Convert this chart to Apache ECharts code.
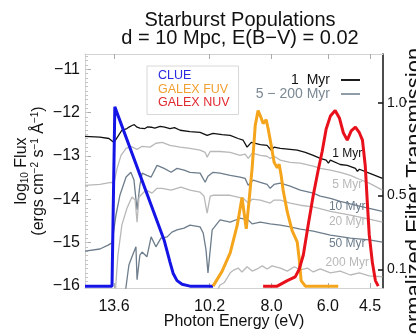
<!DOCTYPE html>
<html><head><meta charset="utf-8">
<script src="https://cdn.jsdelivr.net/npm/echarts@6/dist/echarts.min.js"></script>
<style>html,body{margin:0;padding:0;background:#fff}#c{width:416px;height:334px}</style>
</head><body><div id="c"></div>
<script>
// Tick values
const energyTicks = [13.6, 10.2, 8.0, 6.0, 4.5];
const fluxTicks = [-16, -15, -14, -13, -12, -11];
const transTicks = [0.1, 0.5, 1.0];

// Filter transmission curves [photon energy eV, normalized transmission]
const clue = [[14.63,0.01],[13.67,0.01],[13.62,0.01],[13.57,0.98],[11.82,0.26],[11.61,0.14],[11.50,0.08],[11.36,0.04],[11.18,0.02],[10.90,0.01],[10.08,0.01]];
const galexFUV = [[10.08,0.01],[9.76,0.09],[9.47,0.19],[9.22,0.34],[9.05,0.49],[8.90,0.32],[8.80,0.47],[8.69,0.65],[8.58,0.88],[8.48,0.96],[8.37,0.92],[8.30,0.89],[8.19,0.91],[8.12,0.86],[8.01,0.77],[7.91,0.68],[7.80,0.65],[7.73,0.67],[7.66,0.61],[7.59,0.53],[7.44,0.41],[7.27,0.31],[7.09,0.25],[7.02,0.16],[6.95,0.04],[6.80,0.01],[5.63,0.01]];
const galexNUV = [[8.30,0.01],[7.80,0.01],[7.44,0.04],[7.16,0.06],[7.02,0.10],[6.87,0.18],[6.70,0.34],[6.52,0.50],[6.34,0.64],[6.20,0.74],[6.06,0.86],[5.91,0.93],[5.74,0.96],[5.59,0.92],[5.45,0.84],[5.31,0.80],[5.17,0.85],[5.02,0.87],[4.88,0.84],[4.77,0.80],[4.67,0.66],[4.60,0.47],[4.53,0.29],[4.42,0.14],[4.31,0.04],[4.21,0.01]];

// Model spectra [photon energy eV, log10 flux]
const myr1 = [[14.63,-12.55],[14.10,-12.57],[13.78,-12.60],[13.60,-12.69],[13.46,-12.55],[13.32,-12.41],[13.14,-12.37],[13.05,-12.33],[12.96,-12.30],[12.88,-12.28],[12.78,-12.34],[12.68,-12.36],[12.50,-12.37],[12.40,-12.33],[12.28,-12.34],[12.15,-12.36],[11.96,-12.32],[11.80,-12.34],[11.61,-12.37],[11.45,-12.35],[11.25,-12.41],[10.90,-12.44],[10.54,-12.46],[10.29,-12.53],[10.08,-12.48],[9.76,-12.51],[9.47,-12.53],[9.19,-12.60],[9.01,-12.64],[8.87,-12.80],[8.72,-12.69],[8.40,-12.74],[8.16,-12.76],[8.01,-12.87],[7.91,-12.80],[7.69,-12.83],[7.34,-12.85],[7.09,-12.87],[6.80,-12.92],[6.52,-12.99],[6.27,-13.06],[6.06,-13.10],[5.98,-13.17],[5.91,-13.10],[5.56,-13.20],[5.31,-13.22],[5.02,-13.29],[4.95,-13.36],[4.88,-13.31],[4.53,-13.40],[4.17,-13.49],[4.06,-13.52]];
const myr5 = [[14.63,-13.68],[14.10,-13.66],[13.71,-13.61],[13.60,-13.63],[13.49,-13.29],[13.35,-12.99],[13.17,-12.83],[13.00,-12.78],[12.78,-12.85],[12.60,-12.78],[12.32,-12.80],[12.11,-12.71],[11.89,-12.69],[11.61,-12.76],[11.25,-12.80],[10.90,-12.83],[10.54,-12.87],[10.36,-12.92],[10.29,-13.03],[10.18,-12.90],[9.83,-12.90],[9.47,-12.92],[9.12,-12.99],[8.94,-12.96],[8.83,-13.06],[8.69,-12.94],[8.40,-12.99],[8.16,-13.01],[8.05,-13.06],[7.91,-13.01],[7.69,-13.10],[7.34,-13.15],[6.98,-13.17],[6.52,-13.24],[6.27,-13.29],[5.91,-13.33],[5.56,-13.38],[5.20,-13.45],[4.88,-13.54],[4.53,-13.63],[4.06,-13.79]];
const myr10 = [[14.63,-15.20],[14.10,-15.15],[13.81,-15.06],[13.67,-15.01],[13.60,-15.03],[13.53,-14.37],[13.39,-13.91],[13.17,-13.49],[13.00,-13.38],[12.89,-13.56],[12.78,-14.25],[12.68,-13.68],[12.60,-13.40],[12.43,-13.45],[12.28,-13.49],[12.07,-13.22],[11.82,-13.29],[11.57,-13.38],[11.36,-13.29],[11.11,-13.33],[10.90,-13.38],[10.54,-13.40],[10.36,-13.61],[10.26,-13.47],[10.08,-13.38],[9.83,-13.40],[9.47,-13.45],[9.12,-13.49],[8.94,-13.52],[8.83,-13.68],[8.65,-13.56],[8.40,-13.61],[8.16,-13.66],[8.05,-13.75],[7.91,-13.66],[7.69,-13.63],[7.34,-13.70],[6.98,-13.79],[6.52,-13.86],[6.27,-13.93],[5.91,-13.98],[5.56,-14.05],[5.20,-14.11],[4.88,-14.16],[4.53,-14.21],[4.06,-14.28]];
const myr20 = [[13.56,-16.21],[13.46,-15.29],[13.32,-14.60],[13.14,-14.21],[12.96,-13.95],[12.85,-14.02],[12.78,-14.53],[12.71,-13.95],[12.46,-13.79],[12.25,-13.86],[12.07,-13.75],[11.89,-13.75],[11.57,-13.79],[11.22,-13.72],[10.90,-13.79],[10.54,-13.84],[10.40,-13.93],[10.29,-14.32],[10.18,-13.93],[10.08,-13.91],[9.47,-13.91],[9.01,-13.98],[8.83,-14.09],[8.69,-14.00],[8.40,-14.02],[8.05,-14.09],[7.91,-14.02],[7.69,-14.02],[7.34,-14.09],[6.98,-14.14],[6.52,-14.18],[5.91,-14.28],[5.20,-14.37],[4.53,-14.46],[4.06,-14.53]];
const myr50 = [[13.21,-16.21],[13.07,-15.52],[12.96,-15.33],[12.82,-15.10],[12.78,-15.86],[12.68,-15.29],[12.60,-15.22],[12.43,-15.33],[12.28,-14.87],[12.11,-15.10],[11.93,-14.90],[11.71,-14.87],[11.54,-14.76],[11.36,-14.71],[11.11,-14.67],[10.90,-14.60],[10.54,-14.64],[10.43,-14.78],[10.33,-15.17],[10.26,-15.70],[10.18,-15.17],[10.11,-14.71],[9.83,-14.48],[9.47,-14.53],[9.12,-14.44],[8.83,-14.48],[8.69,-14.57],[8.40,-14.53],[8.05,-14.57],[7.69,-14.60],[7.34,-14.64],[6.98,-14.69],[6.52,-14.74],[5.91,-14.83],[5.20,-14.90],[4.53,-14.94],[4.06,-14.99]];
const myr200 = [[10.01,-16.21],[9.83,-15.98],[9.69,-15.93],[9.58,-15.82],[9.47,-15.70],[9.33,-15.63],[9.19,-15.59],[9.05,-15.68],[8.87,-15.56],[8.69,-15.66],[8.51,-15.61],[8.33,-15.54],[8.16,-15.61],[7.98,-15.54],[7.69,-15.59],[7.44,-15.66],[7.19,-15.56],[6.98,-15.63],[6.73,-15.59],[6.52,-15.68],[6.27,-15.61],[5.91,-15.70],[5.56,-15.66],[5.20,-15.75],[4.88,-15.70],[4.53,-15.77],[4.06,-15.79]];

// In-plot label positions
const labelEnergy = 5.31;
const labelNames = ['1 Myr', '5 Myr', '10 Myr', '20 Myr', '50 Myr', '200 Myr'];
const labelFlux = [-12.94, -13.66, -14.18, -14.53, -15.03, -15.47];

const FONT = 'Liberation Sans, Arial, Helvetica, sans-serif';
const BLACK = '#111111', LIGHT = '#b8b8b8', SLATE = '#6d7d8c';
const FRAME = '#d2d2d2';
const LINE_ICON = 'path://M0,0H20V2H0Z';

const spectra = [
  {name: '1 Myr', data: myr1, color: BLACK},
  {name: '5 Myr', data: myr5, color: LIGHT},
  {name: '10 Myr', data: myr10, color: SLATE},
  {name: '20 Myr', data: myr20, color: LIGHT},
  {name: '50 Myr', data: myr50, color: SLATE},
  {name: '200 Myr', data: myr200, color: LIGHT}
];

const minorFlux = [];
for (let v = -160; v <= -107; v++) minorFlux.push(v / 10);

const series = spectra.map((s, i) => ({
  type: 'line', name: s.name, data: s.data, xAxisIndex: 0, yAxisIndex: 0,
  symbol: 'none', silent: true, z: 2,
  lineStyle: {color: s.color, width: 1.3},
  markPoint: {
    symbol: 'circle', symbolSize: 0, silent: true,
    label: {show: true, position: 'inside', formatter: labelNames[i], color: s.color,
      fontSize: 12, fontFamily: FONT},
    data: [{coord: [labelEnergy, labelFlux[i]]}]
  }
}));
series.push({type: 'line', name: '1  Myr', data: [], symbol: 'none', color: BLACK, lineStyle: {color: BLACK, width: 1.8}});
series.push({type: 'line', name: '5 − 200 Myr', data: [], symbol: 'none', color: '#8a98a5', lineStyle: {color: '#8a98a5', width: 1.8}});

const filters = [
  {name: 'CLUE', data: clue, color: '#1414e6'},
  {name: 'GALEX FUV', data: galexFUV, color: '#f5a51c'},
  {name: 'GALEX NUV', data: galexNUV, color: '#e8101a'}
];
filters.forEach(f => series.push({
  type: 'line', name: f.name, data: f.data, xAxisIndex: 0, yAxisIndex: 1,
  symbol: 'none', silent: true, z: 3,
  lineStyle: {color: f.color, width: 3}
}));

const chart = echarts.init(document.getElementById('c'), null, {renderer: 'canvas'});
chart.setOption({
  animation: false,
  backgroundColor: '#ffffff',
  textStyle: {fontFamily: FONT},
  title: {
    text: 'Starburst Populations\nd = 10 Mpc, E(B−V) = 0.02',
    left: 235, top: 6, textAlign: 'center',
    textStyle: {fontSize: 20, fontWeight: 'normal', color: BLACK, lineHeight: 18, fontFamily: FONT}
  },
  legend: [
    {
      data: [
        {name: '1  Myr', icon: LINE_ICON, itemStyle: {color: BLACK}, textStyle: {color: BLACK}},
        {name: '5 − 200 Myr', icon: LINE_ICON, itemStyle: {color: '#8a98a5'}, textStyle: {color: '#7a8894'}}
      ],
      orient: 'vertical', align: 'right', right: 56, top: 73, padding: 0,
      itemGap: 0, itemWidth: 19, itemHeight: 2, selectedMode: false,
      textStyle: {fontSize: 14, fontFamily: FONT, lineHeight: 14, padding: [0, 6, 0, 0]}
    },
    {
      data: [
        {name: 'CLUE', textStyle: {color: '#2a2ae0'}},
        {name: 'GALEX FUV', textStyle: {color: '#f0a030'}},
        {name: 'GALEX NUV', textStyle: {color: '#e02a30'}}
      ],
      orient: 'vertical', left: 147, top: 66, padding: [3, 9, 5, 6],
      itemGap: 0, itemWidth: 0, itemHeight: 10, icon: 'none', selectedMode: false,
      borderColor: '#d8d8d8', borderWidth: 1,
      textStyle: {fontSize: 12.5, fontFamily: FONT, lineHeight: 13.5}
    }
  ],
  grid: {left: 85, right: 33, top: 54, bottom: 46, outerBoundsMode: 'none', containLabel: false},
  xAxis: [
    {
      type: 'value', inverse: true, min: 4.04, max: 14.63, position: 'bottom',
      name: 'Photon Energy (eV)', nameLocation: 'middle', nameGap: 26, nameMoveOverlap: false,
      nameTextStyle: {fontSize: 16, color: BLACK, fontFamily: FONT},
      axisLine: {show: true, lineStyle: {color: FRAME, width: 1}},
      axisTick: {show: true, inside: true, length: 5, customValues: energyTicks, lineStyle: {color: '#aaaaaa'}},
      axisLabel: {customValues: energyTicks, formatter: v => v.toFixed(1), fontSize: 16, color: BLACK, margin: 11, fontFamily: FONT},
      splitLine: {show: false}
    },
    {
      type: 'value', inverse: true, min: 4.04, max: 14.63, position: 'top',
      axisLine: {show: true, lineStyle: {color: FRAME, width: 1}},
      axisTick: {show: true, inside: true, length: 5, customValues: energyTicks, lineStyle: {color: '#aaaaaa'}},
      axisLabel: {show: false}, splitLine: {show: false}
    }
  ],
  yAxis: [
    {
      type: 'value', min: -16.05, max: -10.65, position: 'left',
      name: '{n|log}{sub|10}{n| Flux}\n{n|(ergs cm}{sup|−2}{n| s}{sup|−1}{n| Å}{sup|−1}{n|)}',
      nameLocation: 'middle', nameGap: 38, nameMoveOverlap: false,
      nameTextStyle: {
        color: BLACK, fontFamily: FONT, fontSize: 16,
        rich: {
          n: {fontSize: 16, lineHeight: 17, color: BLACK, fontFamily: FONT},
          sup: {fontSize: 10, lineHeight: 9, verticalAlign: 'top', color: BLACK, fontFamily: FONT},
          sub: {fontSize: 10, lineHeight: 9, verticalAlign: 'bottom', color: BLACK, fontFamily: FONT}
        }
      },
      axisLine: {show: true, lineStyle: {color: FRAME, width: 1}},
      axisTick: {show: true, inside: true, length: 6, customValues: fluxTicks, lineStyle: {color: '#aaaaaa'}},
      axisLabel: {customValues: fluxTicks, formatter: v => (v < 0 ? '−' : '') + Math.abs(v), fontSize: 16, color: BLACK, margin: 5, fontFamily: FONT},
      splitLine: {show: false}
    },
    {
      type: 'value', min: 0, max: 1.266, position: 'right',
      name: '{t|Normalized Filter Transmission}{s|}', nameLocation: 'middle', nameGap: 20, nameRotate: 90,
      nameMoveOverlap: false,
      nameTextStyle: {
        fontSize: 22, color: BLACK, fontFamily: FONT,
        rich: {
          t: {fontSize: 22, lineHeight: 24, color: BLACK, fontFamily: FONT},
          s: {width: 56, height: 1}
        }
      },
      axisLine: {show: true, lineStyle: {color: BLACK, width: 1.5}},
      axisTick: {show: true, inside: true, length: 5, customValues: transTicks, lineStyle: {color: BLACK, width: 1.5}},
      axisLabel: {customValues: transTicks, formatter: v => v.toFixed(1), fontSize: 14, color: BLACK, margin: 4, fontFamily: FONT},
      splitLine: {show: false}
    },
    {
      type: 'value', min: -16.05, max: -10.65, position: 'left',
      axisLine: {show: false},
      axisTick: {show: true, inside: true, length: 3, customValues: minorFlux, lineStyle: {color: '#c4c4c4'}},
      axisLabel: {show: false}, splitLine: {show: false}
    }
  ],
  series: series
});
</script>
</body></html>
